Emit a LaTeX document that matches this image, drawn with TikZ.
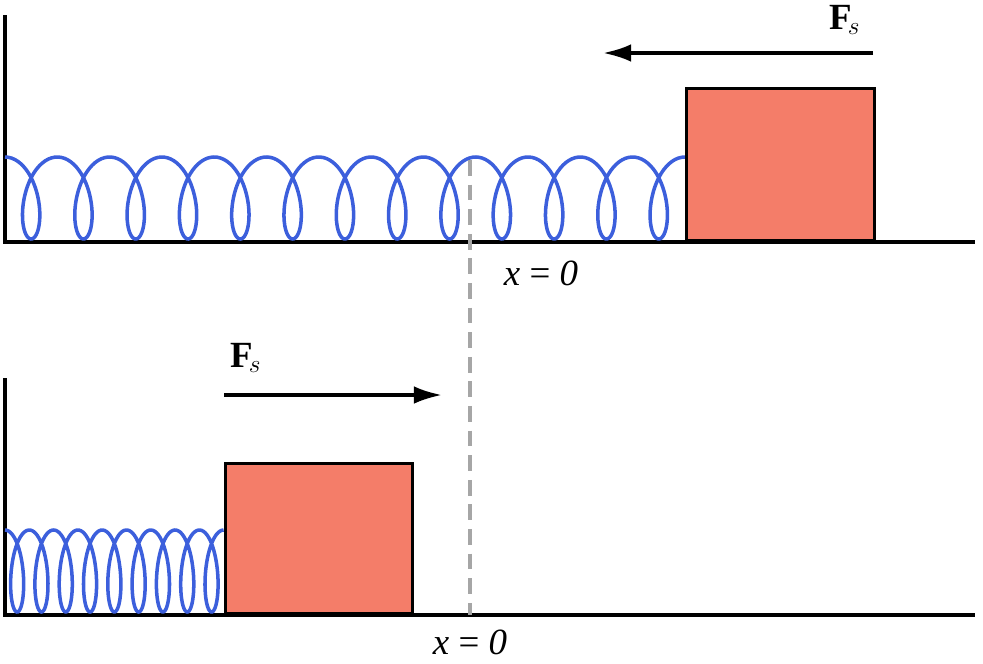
\documentclass[tikz,border=0pt]{standalone}
\usepackage{fontspec}
\setmainfont{Liberation Serif}
\usetikzlibrary{arrows.meta}
\definecolor{blockred}{HTML}{F47D69}
\definecolor{springblue}{HTML}{3C5FDC}
\tikzset{
  ground/.style = {line width=2.2pt},
  block/.style = {draw, line width=1.8pt, fill=blockred, minimum width=#1},
  spring/.style = {springblue, line width=2pt},
  force/.style = {line width=2pt, -{Latex[length=16pt,width=10pt]}},
  lbl/.style = {font=\fontsize{21}{24}\selectfont}
}
\begin{document}
\begin{tikzpicture}[x=0.02cm, y=-0.02cm]
  \useasboundingbox (0,0) rectangle (983,663);
  % top: stretched spring
  \draw[ground] (5,15) -- (5,242) -- (975,242);
  \node[block=188*0.02cm, minimum height=152*0.02cm, inner sep=0, anchor=south west] (box1) at (685,242) {};
  \draw[spring, domain=0:13*2*pi, samples=700, smooth, variable=\t]
    plot ({5+52.3*\t/(2*pi)+20*sin(\t r)}, {198-41*cos(\t r)});
  \coordinate (f1s) at (873,53);
  \coordinate (f1e) at (603,53);
  \draw[force] (f1s) -- (f1e);
  \node[lbl] (fs1) at (845,20) {$\mathbf{F}_{\!s}$};
  \node[lbl] (x1) at (541,273) {\textit{x} = \textit{0}};
  % bottom: compressed spring
  \draw[ground] (5,378) -- (5,615) -- (975,615);
  \node[block=187*0.02cm, minimum height=150*0.02cm, inner sep=0, anchor=south west] (box2) at (224,615) {};
  \draw[spring, domain=0:9*2*pi, samples=500, smooth, variable=\t]
    plot ({5+24.3*\t/(2*pi)+12*sin(\t r)}, {571-41*cos(\t r)});
  \coordinate (f2s) at (224,395);
  \coordinate (f2e) at (442,395);
  \draw[force] (f2s) -- (f2e);
  \node[lbl] (fs2) at (246,358) {$\mathbf{F}_{\!s}$};
  \node[lbl] (x2) at (470,642) {\textit{x} = \textit{0}};
  % equilibrium line
  \coordinate (eqtop) at (470,160);
  \coordinate (eqbot) at (470,615);
  \draw[gray!70, line width=1.8pt, dash pattern=on 9pt off 5pt] (eqtop) -- (eqbot);
\end{tikzpicture}
\end{document}
